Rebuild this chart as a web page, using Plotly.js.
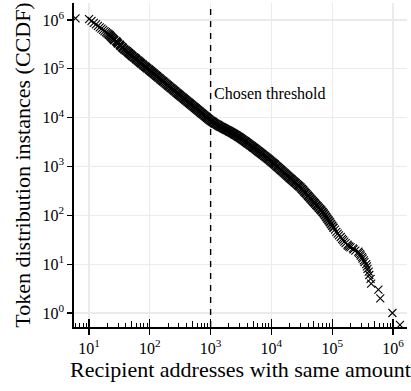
<!DOCTYPE html>
<html><head><meta charset="utf-8">
<script src="https://cdn.plot.ly/plotly-3.0.1.min.js"></script>
<style>html,body{margin:0;padding:0;background:#fff;}#chart{width:411px;height:391px;}</style>
</head><body><div id="chart"></div>
<script>
// x: recipient addresses with same amount; y: token distribution instances (CCDF)
// head of the curve (separate markers)
const headCounts = [6, 10, 11, 12, 13, 14, 15, 16, 17, 18, 19, 20];
const headCcdf = [1.08e6, 1.047e6, 9.55e5, 8.77e5, 8.11e5, 7.55e5, 7.06e5, 6.64e5, 6.26e5, 5.93e5, 5.61e5, 5.35e5];
// dense body of the curve
const bodyCounts = [
  21, 22, 23, 24, 25, 26, 28, 29, 30, 32,
  33, 35, 36, 38, 40, 42, 44, 46, 48, 50,
  52, 55, 58, 60, 63, 66, 69, 72, 76, 79,
  83, 87, 91, 96, 100, 105, 110, 115, 120, 126,
  132, 138, 145, 151, 158, 166, 174, 182, 191, 200,
  209, 219, 229, 240, 251, 263, 275, 288, 302, 316,
  331, 347, 363, 380, 398, 417, 437, 457, 479, 501,
  525, 550, 575, 603, 631, 661, 692, 724, 759, 794,
  832, 871, 912, 955, 1000, 1047, 1096, 1148, 1202, 1259,
  1318, 1380, 1445, 1514, 1585, 1660, 1738, 1820, 1905, 1995,
  2089, 2188, 2291, 2399, 2512, 2630, 2754, 2884, 3020, 3162,
  3311, 3467, 3631, 3802, 3981, 4169, 4365, 4571, 4786, 5012,
  5248, 5495, 5754, 6026, 6310, 6607, 6918, 7244, 7586, 7943,
  8318, 8710, 9120, 9550, 10000, 10470, 10960, 11480, 12020, 12590,
  13180, 13800, 14450, 15140, 15850, 16600, 17380, 18200, 19050, 19950,
  20890, 21880, 22910, 23990, 25120, 26300, 27540, 28840, 30200, 31620,
  33110, 34670, 36310, 38020, 39810, 41690, 43650, 45710, 47860, 50120,
  52480, 54950, 57540, 60260, 63100, 66070, 69180, 72440, 75860, 79430,
  83180, 87100, 91200, 95500, 100000, 104700
];
const bodyCcdf = [
  5.08e5, 4.82e5, 4.56e5, 4.33e5, 4.09e5, 3.87e5, 3.67e5, 3.48e5, 3.30e5, 3.12e5,
  2.95e5, 2.80e5, 2.65e5, 2.51e5, 2.39e5, 2.29e5, 2.18e5, 2.08e5, 1.98e5, 1.89e5,
  1.80e5, 1.72e5, 1.64e5, 1.56e5, 1.49e5, 1.42e5, 1.36e5, 1.29e5, 1.23e5, 1.17e5,
  1.12e5, 1.07e5, 1.02e5, 9.73e4, 9.27e4, 8.85e4, 8.43e4, 8.05e4, 7.67e4, 7.31e4,
  6.98e4, 6.65e4, 6.35e4, 6.05e4, 5.77e4, 5.51e4, 5.25e4, 5.01e4, 4.78e4, 4.55e4,
  4.35e4, 4.14e4, 3.95e4, 3.77e4, 3.59e4, 3.43e4, 3.27e4, 3.12e4, 2.97e4, 2.83e4,
  2.70e4, 2.58e4, 2.46e4, 2.34e4, 2.23e4, 2.13e4, 2.03e4, 1.94e4, 1.85e4, 1.76e4,
  1.68e4, 1.60e4, 1.53e4, 1.46e4, 1.39e4, 1.33e4, 1.26e4, 1.21e4, 1.15e4, 1.10e4,
  1.05e4, 9980, 9530, 9080, 8710, 8370, 8070, 7760, 7500, 7240,
  7010, 6780, 6580, 6370, 6180, 6000, 5820, 5640, 5470, 5310,
  5140, 4980, 4820, 4670, 4510, 4360, 4200, 4040, 3890, 3740,
  3600, 3450, 3320, 3180, 3050, 2930, 2810, 2690, 2580, 2470,
  2370, 2260, 2170, 2070, 1990, 1900, 1820, 1740, 1660, 1590,
  1520, 1450, 1390, 1320, 1260, 1200, 1140, 1090, 1030, 980,
  931, 885, 841, 798, 759, 721, 685, 650, 618, 587,
  558, 530, 504, 479, 455, 433, 410, 390, 371, 348,
  327, 306, 288, 270, 253, 238, 223, 209, 196, 184,
  173, 162, 152, 143, 134, 126, 118, 110, 101, 92.9,
  85.5, 78.5, 72.3, 66.4, 61.1, 56.1
];
// sparse tail
const tailCounts = [
  111000, 117000, 123000, 129000, 138000, 145000, 151000, 158000, 166000, 178000,
  182000, 191000, 200000, 219000, 224000, 240000, 269000, 275000, 288000, 295000,
  309000, 316000, 331000, 339000, 363000, 372000, 380000, 398000, 407000, 427000,
  437000, 575000, 617000, 977000, 1300000
];
const tailCcdf = [
  51, 46, 42, 39, 36, 33, 31, 29, 27, 25,
  24, 23, 22, 21, 20, 19, 18, 17, 16, 15,
  14, 13, 12, 11, 10, 9, 8, 7, 6, 5,
  4, 3, 2, 1, 0.57
];
const thresholdX = 1000;
const thresholdLabel = 'Chosen threshold';
const decadesX = [10, 100, 1000, 10000, 100000, 1000000];
const decadeLabelsX = ['10<sup>1</sup>', '10<sup>2</sup>', '10<sup>3</sup>', '10<sup>4</sup>', '10<sup>5</sup>', '10<sup>6</sup>'];
const decadesY = [1, 10, 100, 1000, 10000, 100000, 1000000];
const decadeLabelsY = ['10<sup>0</sup>', '10<sup>1</sup>', '10<sup>2</sup>', '10<sup>3</sup>', '10<sup>4</sup>', '10<sup>5</sup>', '10<sup>6</sup>'];
const xTitle = 'Recipient addresses with same amount';
const yTitle = 'Token distribution instances (CCDF)';

// log-tick decorations for the x axis
const minorShort = [], minorMid = [];
for (let d = 0; d <= 6; d++) {
  for (let k = 2; k <= 9; k++) {
    const v = k * Math.pow(10, d);
    if (k === 5) minorMid.push(v); else minorShort.push(v);
  }
}

const serif = '"Liberation Serif", "Times New Roman", serif';
const mk = (w) => ({ symbol: 'x-thin-open', size: 8, color: '#000', line: { color: '#000', width: w } });

const traces = [
  { type: 'scatter', mode: 'markers', x: headCounts, y: headCcdf, marker: mk(1.1), showlegend: false },
  { type: 'scatter', mode: 'markers', x: bodyCounts, y: bodyCcdf, marker: mk(1.7), showlegend: false },
  { type: 'scatter', mode: 'markers', x: tailCounts, y: tailCcdf, marker: mk(1.1), showlegend: false },
  { type: 'scatter', mode: 'markers', x: [], y: [], xaxis: 'x2', yaxis: 'y', showlegend: false, hoverinfo: 'skip' }
];

const layout = {
  width: 411, height: 391,
  margin: { l: 74, r: 4, t: 3, b: 64 },
  paper_bgcolor: '#fff', plot_bgcolor: '#fff',
  font: { family: serif, color: '#000', size: 16 },
  showlegend: false,
  xaxis: {
    type: 'log', range: [0.753, 6.23],
    tickmode: 'array', tickvals: decadesX, ticktext: decadeLabelsX,
    ticks: 'outside', ticklen: 6, tickwidth: 1.3, tickcolor: '#000',
    showline: true, linecolor: '#000', linewidth: 1.6,
    showgrid: true, gridcolor: '#ebebeb', gridwidth: 1.1, zeroline: false,
    tickfont: { family: serif, size: 16, color: '#000' },
    title: { text: xTitle, font: { family: serif, size: 22, color: '#000' }, standoff: 6 },
    minor: { tickmode: 'array', tickvals: minorShort, ticks: 'inside', ticklen: 4, tickwidth: 1, tickcolor: '#000', showgrid: false }
  },
  xaxis2: {
    type: 'log', overlaying: 'x', matches: 'x', anchor: 'y', side: 'bottom',
    tickmode: 'array', tickvals: decadesX, ticks: 'inside', ticklen: 8, tickwidth: 1.3, tickcolor: '#000',
    showticklabels: false, showgrid: false, showline: false, zeroline: false,
    minor: { tickmode: 'array', tickvals: minorMid, ticks: 'inside', ticklen: 6, tickwidth: 1, tickcolor: '#000', showgrid: false }
  },
  yaxis: {
    type: 'log', range: [-0.287, 6.348],
    tickmode: 'array', tickvals: decadesY, ticktext: decadeLabelsY,
    ticks: 'outside', ticklen: 5, tickwidth: 1.3, tickcolor: '#000',
    showline: true, linecolor: '#000', linewidth: 1.6,
    showgrid: true, gridcolor: '#ebebeb', gridwidth: 1.1, zeroline: false,
    tickfont: { family: serif, size: 16, color: '#000' },
    title: { text: yTitle, font: { family: serif, size: 22, color: '#000' }, standoff: 6 }
  },
  shapes: [{
    type: 'line', xref: 'x', yref: 'paper', x0: thresholdX, x1: thresholdX, y0: 0, y1: 1,
    line: { color: '#000', width: 1.4, dash: '6px,6px' }
  }],
  annotations: [{
    xref: 'x', yref: 'y', x: Math.log10(thresholdX), y: 4.485,
    text: thresholdLabel, showarrow: false, xanchor: 'left', yanchor: 'middle', xshift: 1,
    font: { family: serif, size: 16, color: '#000' }
  }]
};

Plotly.newPlot('chart', traces, layout, { displayModeBar: false, staticPlot: true });
</script>
</body></html>
